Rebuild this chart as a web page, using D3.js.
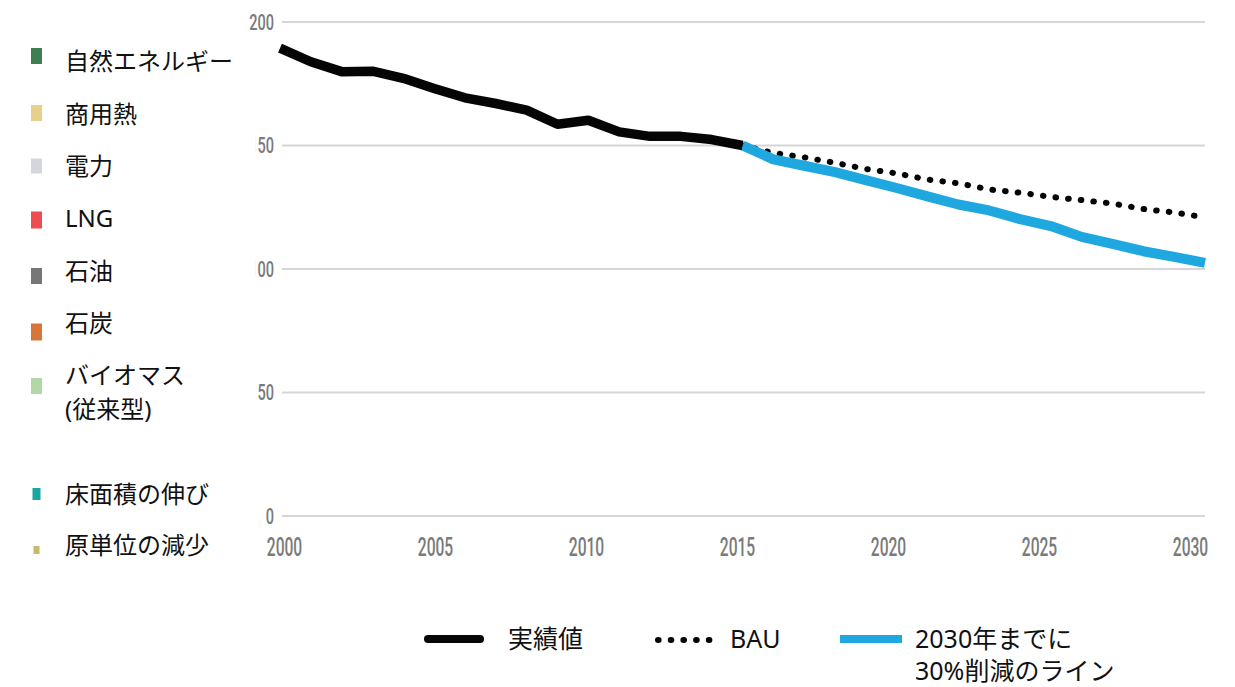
<!DOCTYPE html>
<html>
<head>
<meta charset="utf-8">
<script src="https://cdn.jsdelivr.net/npm/d3@7"></script>
<style>
  html, body { margin: 0; padding: 0; background: #fff; }
  svg { display: block; }
  .jp { font-family: "Noto Sans", "Noto Sans CJK JP", sans-serif; fill: #111; }
  .tick-label { font-family: Roboto, "DejaVu Sans", sans-serif; fill: #7a7a7a; }
</style>
</head>
<body>
<svg id="chart" width="1235" height="687"></svg>
<script>
// ---- data ----
const actualYears  = [2000, 2001, 2002, 2003, 2004, 2005, 2006, 2007, 2008, 2009, 2010, 2011, 2012, 2013, 2014, 2015];
const actualValues = [189.2, 183.7, 179.7, 179.9, 177.0, 172.9, 169.1, 166.8, 164.1, 158.4, 160.0, 155.3, 153.5, 153.5, 152.2, 149.8];

const planYears    = [2015, 2016, 2017, 2018, 2019, 2020, 2021, 2022, 2023, 2024, 2025, 2026, 2027, 2028, 2029, 2030];
const bauValues    = [149.8, 146.8, 145.0, 142.8, 140.3, 138.5, 136.0, 134.5, 132.0, 130.7, 129.0, 127.7, 126.3, 124.1, 122.7, 120.7];
const targetValues = [149.8, 144.2, 141.6, 139.0, 135.8, 132.6, 129.2, 125.9, 123.5, 120.0, 117.2, 112.8, 110.0, 107.0, 104.7, 102.3];

const yTicks = [0, 50, 100, 150, 200];
const xTicks = [2000, 2005, 2010, 2015, 2020, 2025, 2030];

const sourceLabels = ["自然エネルギー", "商用熱", "電力", "LNG", "石油", "石炭", ["バイオマス", "(従来型)"], "床面積の伸び", "原単位の減少"];
const sourceColors = ["#3f7d52", "#e7d08e", "#d5d5de", "#ee4c50", "#777777", "#d8763a", "#b2d8a8", "#1ba7a1", "#cbb66e"];

const lineLabels = ["実績値", "BAU", ["2030年までに", "30%削減のライン"]];

// ---- layout ----
const svg = d3.select("#chart");
const x = d3.scaleLinear().domain([2000, 2030]).range([280, 1205]);
const xLabelPos = d3.scaleLinear().domain([2000, 2030]).range([284, 1190]);
const y = d3.scaleLinear().domain([0, 200]).range([515.5, 21.5]);

const BLACK = "#050505";
const BLUE = "#1fa8e0";

// y grid + labels
const yAxis = svg.append("g")
  .attr("transform", "translate(282,0)")
  .call(d3.axisLeft(y).tickValues(yTicks).tickSize(-(1205 - 282)).tickPadding(9).tickFormat(d3.format("d")));
yAxis.select(".domain").remove();
yAxis.selectAll(".tick line").attr("stroke", "#d6d6d6").attr("stroke-width", 2);
yAxis.selectAll(".tick text")
  .attr("class", "tick-label")
  .attr("font-size", 22)
  .attr("font-weight", 500)
  .attr("transform", "scale(0.66,1)")
  .attr("x", -8 / 0.66)
  .attr("dy", "0.36em");

// x labels
const xAxis = svg.append("g")
  .attr("transform", "translate(0,531)")
  .call(d3.axisBottom(xLabelPos).tickValues(xTicks).tickSize(0).tickPadding(0).tickFormat(d3.format("d")));
xAxis.select(".domain").remove();
xAxis.selectAll(".tick text")
  .attr("class", "tick-label")
  .attr("font-size", 26)
  .attr("font-weight", 500)
  .attr("dy", "0.95em")
  .attr("transform", "scale(0.6,1)");

// ---- lines ----
const line = d3.line().x(d => x(d[0])).y(d => y(d[1])).curve(d3.curveLinear);

svg.append("path")
  .datum(planYears.map((yr, i) => [yr, bauValues[i]]))
  .attr("d", line)
  .attr("fill", "none")
  .attr("stroke", BLACK)
  .attr("stroke-width", 6)
  .attr("stroke-linecap", "round")
  .attr("stroke-dasharray", "0.6 12.1");

svg.append("path")
  .datum(planYears.map((yr, i) => [yr, targetValues[i]]))
  .attr("d", line)
  .attr("fill", "none")
  .attr("stroke", BLUE)
  .attr("stroke-width", 10)
  .attr("stroke-linejoin", "round");

svg.append("path")
  .datum(actualYears.map((yr, i) => [yr, actualValues[i]]))
  .attr("d", line)
  .attr("fill", "none")
  .attr("stroke", BLACK)
  .attr("stroke-width", 9.5)
  .attr("stroke-linejoin", "round");

// ---- energy source legend (left panel) ----
const panel = svg.append("g");
panel.append("rect").attr("x", 0).attr("y", 36).attr("width", 255).attr("height", 540).attr("fill", "#fff");

const rowText = [60, 113, 165, 217, 270, 322, 374, 493, 544];
const rowSwatch = [56, 113, 166, 220, 276, 332, 386, 494, 550];
const swatchSize = [[11, 16], [11, 16], [11, 15], [11, 17], [11, 16], [11, 17], [11, 16], [8, 12], [6, 8]];

sourceLabels.forEach((lab, i) => {
  const [w, h] = swatchSize[i];
  panel.append("rect")
    .attr("x", 36.5 - w / 2).attr("y", rowSwatch[i] - h / 2)
    .attr("width", w).attr("height", h)
    .attr("fill", sourceColors[i]);
  const lines = Array.isArray(lab) ? lab : [lab];
  lines.forEach((t, j) => {
    panel.append("text")
      .attr("class", "jp")
      .attr("x", 65).attr("y", rowText[i] + j * 34)
      .attr("dominant-baseline", "central")
      .attr("font-size", 24)
      .text(t);
  });
});

// ---- line legend (bottom) ----
const lg = svg.append("g");
lg.append("line").attr("x1", 428).attr("x2", 480).attr("y1", 639).attr("y2", 639)
  .attr("stroke", BLACK).attr("stroke-width", 8).attr("stroke-linecap", "round");
lg.append("line").attr("x1", 658).attr("x2", 712).attr("y1", 640).attr("y2", 640)
  .attr("stroke", BLACK).attr("stroke-width", 6).attr("stroke-linecap", "round")
  .attr("stroke-dasharray", "0.6 12.1");
lg.append("line").attr("x1", 840).attr("x2", 902).attr("y1", 639).attr("y2", 639)
  .attr("stroke", BLUE).attr("stroke-width", 8);

const lgX = [508, 730, 915];
lineLabels.forEach((lab, i) => {
  const lines = Array.isArray(lab) ? lab : [lab];
  lines.forEach((t, j) => {
    lg.append("text")
      .attr("class", "jp")
      .attr("x", lgX[i]).attr("y", 638 + j * 32)
      .attr("dominant-baseline", "central")
      .attr("font-size", 25)
      .text(t);
  });
});
</script>
</body>
</html>
